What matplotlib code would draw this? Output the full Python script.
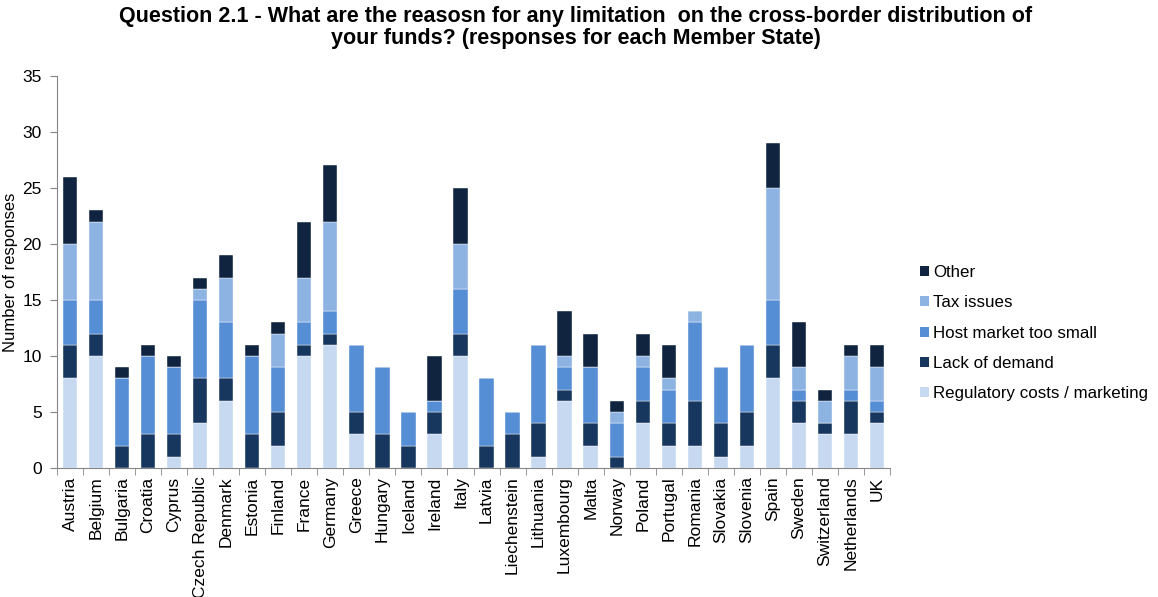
import matplotlib
matplotlib.use("Agg")
import matplotlib.pyplot as plt
import numpy as np
from matplotlib.patches import Patch

plt.rcParams['font.family'] = ['Liberation Sans', 'DejaVu Sans']

countries = ["Austria", "Belgium", "Bulgaria", "Croatia", "Cyprus", "Czech Republic", "Denmark",
             "Estonia", "Finland", "France", "Germany", "Greece", "Hungary", "Iceland", "Ireland",
             "Italy", "Latvia", "Liechenstein", "Lithuania", "Luxembourg", "Malta", "Norway",
             "Poland", "Portugal", "Romania", "Slovakia", "Slovenia", "Spain", "Sweden",
             "Switzerland", "Netherlands", "UK"]

regulatory = [8, 10, 0, 0, 1, 4, 6, 0, 2, 10, 11, 3, 0, 0, 3, 10, 0, 0, 1, 6, 2, 0, 4, 2, 2, 1, 2, 8, 4, 3, 3, 4]
lack_of_demand = [3, 2, 2, 3, 2, 4, 2, 3, 3, 1, 1, 2, 3, 2, 2, 2, 2, 3, 3, 1, 2, 1, 2, 2, 4, 3, 3, 3, 2, 1, 3, 1]
host_market = [4, 3, 6, 7, 6, 7, 5, 7, 4, 2, 2, 6, 6, 3, 1, 4, 6, 2, 7, 2, 5, 3, 3, 3, 7, 5, 6, 4, 1, 0, 1, 1]
tax_issues = [5, 7, 0, 0, 0, 1, 4, 0, 3, 4, 8, 0, 0, 0, 0, 4, 0, 0, 0, 1, 0, 1, 1, 1, 1, 0, 0, 10, 2, 2, 3, 3]
other = [6, 1, 1, 1, 1, 1, 2, 1, 1, 5, 5, 0, 0, 0, 4, 5, 0, 0, 0, 4, 3, 1, 2, 3, 0, 0, 0, 4, 4, 1, 1, 2]

series_names = ["Regulatory costs / marketing", "Lack of demand", "Host market too small", "Tax issues", "Other"]
colors = ["#C6D9F1", "#17375E", "#558ED5", "#8DB3E2", "#10243F"]

FS = 12.5
fig = plt.figure(figsize=(11.58, 5.97), dpi=100)
ax = fig.add_axes([0.0492, 0.216, 0.7194, 0.657])

x = np.arange(len(countries))
bottom = np.zeros(len(countries))
handles = []
for name, vals, c in zip(series_names, [regulatory, lack_of_demand, host_market, tax_issues, other], colors):
    vals = np.array(vals, dtype=float)
    ax.bar(x, vals, 0.55, bottom=bottom, color=c, edgecolor='white', linewidth=0.3, zorder=2)
    bottom += vals
    handles.append(Patch(facecolor=c, edgecolor='none', label=name))

ax.set_xlim(-0.5, len(countries) - 0.5)
ax.set_ylim(0, 35)
ax.set_yticks(range(0, 36, 5))
ax.set_xticks(x)
ax.set_xticklabels(countries, rotation=90, fontsize=FS)
ax.set_xticks(np.arange(-0.5, len(countries), 1.0), minor=True)
ax.tick_params(axis='x', which='major', length=0, pad=6)
ax.tick_params(axis='x', which='minor', length=5, color='#868686', direction='out')
ax.tick_params(axis='y', length=5, color='#868686', labelsize=FS, direction='out', pad=6)
for s in ['top', 'right']:
    ax.spines[s].set_visible(False)
for s in ['left', 'bottom']:
    ax.spines[s].set_color('#868686')
ax.set_ylabel("Number of responses", fontsize=12)
ax.yaxis.set_label_coords(-0.047, 0.5)

fig.text(0.497, 0.99, "Question 2.1 - What are the reasosn for any limitation  on the cross-border distribution of\nyour funds? (responses for each Member State)",
         ha='center', va='top', fontsize=15.5, fontweight='bold', linespacing=1.08)

leg = fig.legend(handles=handles[::-1], loc='center left', bbox_to_anchor=(0.781, 0.442),
                 frameon=False, fontsize=12.2, handlelength=0.55, handleheight=0.55,
                 handletextpad=0.25, labelspacing=0.9)

fig.savefig("out.png", dpi=100)
